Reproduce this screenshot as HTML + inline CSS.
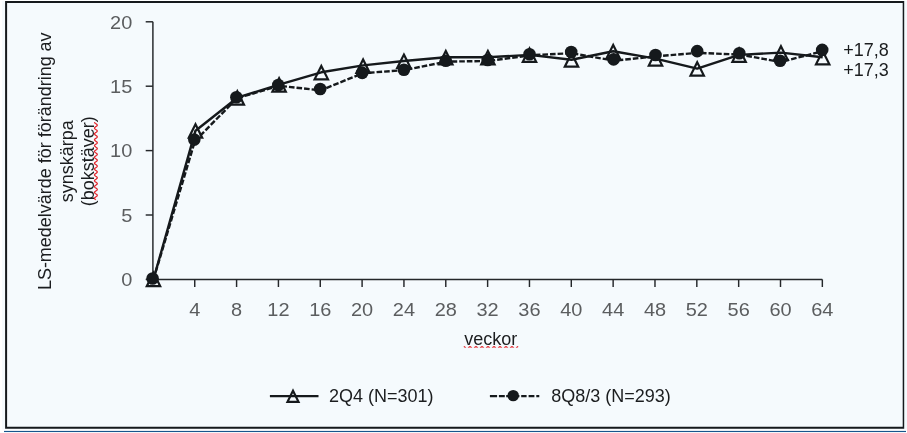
<!DOCTYPE html><html><head><meta charset="utf-8"><title>chart</title>
<style>html,body{margin:0;padding:0;background:#fff;}body{width:907px;height:433px;overflow:hidden;}svg{display:block;will-change:transform;}text{font-family:"Liberation Sans",sans-serif;}</style></head><body>
<svg width="907" height="433" viewBox="0 0 907 433">
<rect x="0" y="0" width="907" height="433" fill="#ffffff"/>
<rect x="2" y="0.9" width="905" height="428.6" fill="#f5fafd"/>
<path d="M5.1 1.05 H904.2 V428.85 H5.1 Z M7.1 3.05 V426.7 H902.7 V3.05 Z" fill="#15191c" fill-rule="evenodd"/>
<rect x="4" y="430.9" width="902" height="1.15" fill="#17558c"/>
<path d="M152.9 21.8 V279.4 H822.3" fill="none" stroke="#24272a" stroke-width="1.45"/>
<path d="M145.7 279.40 H152.9" stroke="#24272a" stroke-width="1.45"/>
<text transform="translate(132.3 286.20) scale(1.05 1)" font-size="19" fill="#5b5d5f" text-anchor="end">0</text>
<path d="M145.7 215.00 H152.9" stroke="#24272a" stroke-width="1.45"/>
<text transform="translate(132.3 221.80) scale(1.05 1)" font-size="19" fill="#5b5d5f" text-anchor="end">5</text>
<path d="M145.7 150.60 H152.9" stroke="#24272a" stroke-width="1.45"/>
<text transform="translate(132.3 157.40) scale(1.05 1)" font-size="19" fill="#5b5d5f" text-anchor="end">10</text>
<path d="M145.7 86.20 H152.9" stroke="#24272a" stroke-width="1.45"/>
<text transform="translate(132.3 93.00) scale(1.05 1)" font-size="19" fill="#5b5d5f" text-anchor="end">15</text>
<path d="M145.7 21.80 H152.9" stroke="#24272a" stroke-width="1.45"/>
<text transform="translate(132.3 28.60) scale(1.05 1)" font-size="19" fill="#5b5d5f" text-anchor="end">20</text>
<path d="M194.74 279.4 V287" stroke="#24272a" stroke-width="1.45"/>
<text transform="translate(194.74 315.9) scale(1.05 1)" font-size="19" fill="#5b5d5f" text-anchor="middle">4</text>
<path d="M236.58 279.4 V287" stroke="#24272a" stroke-width="1.45"/>
<text transform="translate(236.58 315.9) scale(1.05 1)" font-size="19" fill="#5b5d5f" text-anchor="middle">8</text>
<path d="M278.42 279.4 V287" stroke="#24272a" stroke-width="1.45"/>
<text transform="translate(278.42 315.9) scale(1.05 1)" font-size="19" fill="#5b5d5f" text-anchor="middle">12</text>
<path d="M320.26 279.4 V287" stroke="#24272a" stroke-width="1.45"/>
<text transform="translate(320.26 315.9) scale(1.05 1)" font-size="19" fill="#5b5d5f" text-anchor="middle">16</text>
<path d="M362.10 279.4 V287" stroke="#24272a" stroke-width="1.45"/>
<text transform="translate(362.10 315.9) scale(1.05 1)" font-size="19" fill="#5b5d5f" text-anchor="middle">20</text>
<path d="M403.94 279.4 V287" stroke="#24272a" stroke-width="1.45"/>
<text transform="translate(403.94 315.9) scale(1.05 1)" font-size="19" fill="#5b5d5f" text-anchor="middle">24</text>
<path d="M445.78 279.4 V287" stroke="#24272a" stroke-width="1.45"/>
<text transform="translate(445.78 315.9) scale(1.05 1)" font-size="19" fill="#5b5d5f" text-anchor="middle">28</text>
<path d="M487.62 279.4 V287" stroke="#24272a" stroke-width="1.45"/>
<text transform="translate(487.62 315.9) scale(1.05 1)" font-size="19" fill="#5b5d5f" text-anchor="middle">32</text>
<path d="M529.46 279.4 V287" stroke="#24272a" stroke-width="1.45"/>
<text transform="translate(529.46 315.9) scale(1.05 1)" font-size="19" fill="#5b5d5f" text-anchor="middle">36</text>
<path d="M571.30 279.4 V287" stroke="#24272a" stroke-width="1.45"/>
<text transform="translate(571.30 315.9) scale(1.05 1)" font-size="19" fill="#5b5d5f" text-anchor="middle">40</text>
<path d="M613.14 279.4 V287" stroke="#24272a" stroke-width="1.45"/>
<text transform="translate(613.14 315.9) scale(1.05 1)" font-size="19" fill="#5b5d5f" text-anchor="middle">44</text>
<path d="M654.98 279.4 V287" stroke="#24272a" stroke-width="1.45"/>
<text transform="translate(654.98 315.9) scale(1.05 1)" font-size="19" fill="#5b5d5f" text-anchor="middle">48</text>
<path d="M696.82 279.4 V287" stroke="#24272a" stroke-width="1.45"/>
<text transform="translate(696.82 315.9) scale(1.05 1)" font-size="19" fill="#5b5d5f" text-anchor="middle">52</text>
<path d="M738.66 279.4 V287" stroke="#24272a" stroke-width="1.45"/>
<text transform="translate(738.66 315.9) scale(1.05 1)" font-size="19" fill="#5b5d5f" text-anchor="middle">56</text>
<path d="M780.50 279.4 V287" stroke="#24272a" stroke-width="1.45"/>
<text transform="translate(780.50 315.9) scale(1.05 1)" font-size="19" fill="#5b5d5f" text-anchor="middle">60</text>
<path d="M822.34 279.4 V287" stroke="#24272a" stroke-width="1.45"/>
<text transform="translate(822.34 315.9) scale(1.05 1)" font-size="19" fill="#5b5d5f" text-anchor="middle">64</text>
<polyline fill="none" stroke="#15191c" stroke-width="2.4" stroke-linejoin="round" points="153.50,279.20 195.50,130.70 237.30,97.70 279.10,84.55 321.30,72.30 363.10,65.40 403.90,61.00 445.80,57.30 487.90,57.30 529.50,54.85 571.50,59.70 613.20,51.30 655.50,58.60 697.20,68.60 739.10,54.85 780.95,52.60 822.70,57.30"/>
<path d="M153.50 272.80 L160.20 286.20 L146.80 286.20 Z" fill="none" stroke="#15191c" stroke-width="2.2" stroke-linejoin="miter"/>
<path d="M195.50 124.30 L202.20 137.70 L188.80 137.70 Z" fill="none" stroke="#15191c" stroke-width="2.2" stroke-linejoin="miter"/>
<path d="M237.30 91.30 L244.00 104.70 L230.60 104.70 Z" fill="none" stroke="#15191c" stroke-width="2.2" stroke-linejoin="miter"/>
<path d="M279.10 78.15 L285.80 91.55 L272.40 91.55 Z" fill="none" stroke="#15191c" stroke-width="2.2" stroke-linejoin="miter"/>
<path d="M321.30 65.90 L328.00 79.30 L314.60 79.30 Z" fill="none" stroke="#15191c" stroke-width="2.2" stroke-linejoin="miter"/>
<path d="M363.10 59.50 L369.80 72.90 L356.40 72.90 Z" fill="none" stroke="#15191c" stroke-width="2.2" stroke-linejoin="miter"/>
<path d="M403.90 54.60 L410.60 68.00 L397.20 68.00 Z" fill="none" stroke="#15191c" stroke-width="2.2" stroke-linejoin="miter"/>
<path d="M445.80 50.90 L452.50 64.30 L439.10 64.30 Z" fill="none" stroke="#15191c" stroke-width="2.2" stroke-linejoin="miter"/>
<path d="M487.90 50.90 L494.60 64.30 L481.20 64.30 Z" fill="none" stroke="#15191c" stroke-width="2.2" stroke-linejoin="miter"/>
<path d="M529.50 48.45 L536.20 61.85 L522.80 61.85 Z" fill="none" stroke="#15191c" stroke-width="2.2" stroke-linejoin="miter"/>
<path d="M571.50 53.30 L578.20 66.70 L564.80 66.70 Z" fill="none" stroke="#15191c" stroke-width="2.2" stroke-linejoin="miter"/>
<path d="M613.20 44.90 L619.90 58.30 L606.50 58.30 Z" fill="none" stroke="#15191c" stroke-width="2.2" stroke-linejoin="miter"/>
<path d="M655.50 52.20 L662.20 65.60 L648.80 65.60 Z" fill="none" stroke="#15191c" stroke-width="2.2" stroke-linejoin="miter"/>
<path d="M697.20 62.20 L703.90 75.60 L690.50 75.60 Z" fill="none" stroke="#15191c" stroke-width="2.2" stroke-linejoin="miter"/>
<path d="M739.10 48.45 L745.80 61.85 L732.40 61.85 Z" fill="none" stroke="#15191c" stroke-width="2.2" stroke-linejoin="miter"/>
<path d="M780.95 46.20 L787.65 59.60 L774.25 59.60 Z" fill="none" stroke="#15191c" stroke-width="2.2" stroke-linejoin="miter"/>
<path d="M822.70 50.90 L829.40 64.30 L816.00 64.30 Z" fill="none" stroke="#15191c" stroke-width="2.2" stroke-linejoin="miter"/>
<polyline fill="none" stroke="#15191c" stroke-width="2.4" stroke-dasharray="5.6 2" stroke-linejoin="round" points="153.40,279.55 194.90,141.10 237.00,98.30 278.90,85.80 320.80,90.35 362.80,73.20 404.50,70.10 446.40,61.60 488.30,61.00 530.10,55.30 571.80,53.20 614.20,60.70 656.10,56.30 697.80,52.85 739.90,54.60 780.70,62.00 822.80,51.20"/>
<circle cx="152.60" cy="278.55" r="6.3" fill="#15191c"/>
<circle cx="194.30" cy="139.60" r="6.3" fill="#15191c"/>
<circle cx="236.40" cy="97.30" r="6.3" fill="#15191c"/>
<circle cx="278.30" cy="85.00" r="6.3" fill="#15191c"/>
<circle cx="320.20" cy="89.05" r="6.3" fill="#15191c"/>
<circle cx="362.20" cy="72.90" r="6.3" fill="#15191c"/>
<circle cx="403.90" cy="69.70" r="6.3" fill="#15191c"/>
<circle cx="445.80" cy="60.70" r="6.3" fill="#15191c"/>
<circle cx="487.70" cy="60.00" r="6.3" fill="#15191c"/>
<circle cx="529.50" cy="54.30" r="6.3" fill="#15191c"/>
<circle cx="571.20" cy="52.00" r="6.3" fill="#15191c"/>
<circle cx="613.60" cy="59.40" r="6.3" fill="#15191c"/>
<circle cx="655.50" cy="55.00" r="6.3" fill="#15191c"/>
<circle cx="697.20" cy="51.15" r="6.3" fill="#15191c"/>
<circle cx="739.30" cy="53.30" r="6.3" fill="#15191c"/>
<circle cx="780.10" cy="60.70" r="6.3" fill="#15191c"/>
<circle cx="822.20" cy="49.90" r="6.3" fill="#15191c"/>
<text x="843.2" y="56" font-size="18.0" fill="#1b1d1f">+17,8</text>
<text x="843.2" y="76.3" font-size="18.0" fill="#1b1d1f">+17,3</text>
<text transform="translate(50.6 161.25) rotate(-90)" font-size="17.98" fill="#1b1d1f" text-anchor="middle">LS-medelvärde för förändring av</text>
<text transform="translate(72.7 161.25) rotate(-90)" font-size="17.98" fill="#1b1d1f" text-anchor="middle">synskärpa</text>
<text transform="translate(94.0 161.25) rotate(-90)" font-size="17.98" fill="#1b1d1f" text-anchor="middle">(bokstäver)</text>
<polyline points="94.50,122.20 94.61,122.60 94.95,123.00 95.46,123.40 96.05,123.80 96.62,124.20 97.05,124.60 97.28,125.00 97.25,125.40 96.98,125.80 96.51,126.20 95.93,126.60 95.35,127.00 94.86,127.40 94.57,127.80 94.51,128.20 94.71,128.60 95.12,129.00 95.68,129.40 96.28,129.80 96.80,130.20 97.17,130.60 97.30,131.00 97.18,131.40 96.83,131.80 96.30,132.20 95.71,132.60 95.15,133.00 94.72,133.40 94.51,133.80 94.56,134.20 94.84,134.60 95.32,135.00 95.90,135.40 96.49,135.80 96.96,136.20 97.25,136.60 97.28,137.00 97.07,137.40 96.65,137.80 96.08,138.20 95.49,138.60 94.97,139.00 94.62,139.40 94.50,139.80 94.64,140.20 95.00,140.60 95.53,141.00 96.13,141.40 96.68,141.80 97.10,142.20 97.29,142.60 97.23,143.00 96.93,143.40 96.45,143.80 95.86,144.20 95.28,144.60 94.81,145.00 94.54,145.40 94.52,145.80 94.75,146.20 95.19,146.60 95.75,147.00 96.35,147.40 96.86,147.80 97.20,148.20 97.30,148.60 97.15,149.00 96.77,149.40 96.23,149.80 95.63,150.20 95.09,150.60 94.69,151.00 94.51,151.40 94.58,151.80 94.89,152.20 95.39,152.60 95.98,153.00 96.55,153.40 97.01,153.80 97.26,154.20 97.27,154.60 97.03,155.00 96.58,155.40 96.01,155.80 95.42,156.20 94.91,156.60 94.59,157.00 94.50,157.40 94.67,157.80 95.06,158.20 95.61,158.60 96.20,159.00 96.74,159.40 97.13,159.80 97.30,160.20 97.21,160.60 96.88,161.00 96.38,161.40 95.78,161.80 95.21,162.20 94.77,162.60 94.53,163.00 94.54,163.40 94.79,163.80 95.25,164.20 95.83,164.60 96.42,165.00 96.91,165.40 97.22,165.80 97.29,166.20 97.11,166.60 96.71,167.00 96.16,167.40 95.56,167.80 95.03,168.20 94.65,168.60 94.50,169.00 94.61,169.40 94.95,169.80 95.46,170.20 96.05,170.60 96.62,171.00 97.05,171.40 97.28,171.80 97.25,172.20 96.98,172.60 96.51,173.00 95.93,173.40 95.35,173.80 94.86,174.20 94.57,174.60 94.51,175.00 94.71,175.40 95.12,175.80 95.68,176.20 96.28,176.60 96.80,177.00 97.17,177.40 97.30,177.80 97.18,178.20 96.83,178.60 96.30,179.00 95.71,179.40 95.15,179.80 94.72,180.20 94.51,180.60 94.56,181.00 94.84,181.40 95.32,181.80 95.90,182.20 96.49,182.60 96.96,183.00 97.25,183.40 97.28,183.80 97.07,184.20 96.65,184.60 96.08,185.00 95.49,185.40 94.97,185.80 94.62,186.20 94.50,186.60 94.64,187.00 95.00,187.40 95.53,187.80 96.13,188.20 96.68,188.60 97.10,189.00 97.29,189.40 97.23,189.80 96.93,190.20 96.45,190.60 95.86,191.00 95.28,191.40 94.81,191.80 94.54,192.20 94.52,192.60 94.75,193.00 95.19,193.40 95.75,193.80 96.35,194.20 96.86,194.60 97.20,195.00 97.30,195.40 97.15,195.80 96.77,196.20 96.23,196.60 95.63,197.00 95.09,197.40 94.69,197.80 94.51,198.20 94.58,198.60 94.89,199.00 95.39,199.40 95.98,199.80" fill="none" stroke="#e3262d" stroke-width="1.25" stroke-linejoin="round"/>
<text x="490.7" y="344.5" font-size="18.0" fill="#1b1d1f" text-anchor="middle">veckor</text>
<clipPath id="cv"><rect x="460" y="340" width="62" height="7.8"/></clipPath>
<polyline clip-path="url(#cv)" points="463.80,346.68 464.20,346.68 464.60,346.89 465.00,347.27 465.40,347.77 465.80,348.29 466.20,348.74 466.60,349.04 467.00,349.15 467.40,349.04 467.80,348.74 468.20,348.29 468.60,347.77 469.00,347.28 469.40,346.89 469.80,346.68 470.20,346.68 470.60,346.89 471.00,347.27 471.40,347.77 471.80,348.29 472.20,348.74 472.60,349.04 473.00,349.15 473.40,349.04 473.80,348.74 474.20,348.29 474.60,347.77 475.00,347.28 475.40,346.89 475.80,346.68 476.20,346.68 476.60,346.89 477.00,347.27 477.40,347.77 477.80,348.29 478.20,348.74 478.60,349.04 479.00,349.15 479.40,349.04 479.80,348.74 480.20,348.29 480.60,347.77 481.00,347.28 481.40,346.89 481.80,346.68 482.20,346.68 482.60,346.89 483.00,347.27 483.40,347.77 483.80,348.29 484.20,348.74 484.60,349.04 485.00,349.15 485.40,349.04 485.80,348.74 486.20,348.29 486.60,347.77 487.00,347.28 487.40,346.89 487.80,346.68 488.20,346.68 488.60,346.89 489.00,347.27 489.40,347.77 489.80,348.29 490.20,348.74 490.60,349.04 491.00,349.15 491.40,349.04 491.80,348.74 492.20,348.29 492.60,347.77 493.00,347.28 493.40,346.89 493.80,346.68 494.20,346.68 494.60,346.89 495.00,347.27 495.40,347.77 495.80,348.29 496.20,348.74 496.60,349.04 497.00,349.15 497.40,349.04 497.80,348.74 498.20,348.29 498.60,347.77 499.00,347.28 499.40,346.89 499.80,346.68 500.20,346.68 500.60,346.89 501.00,347.27 501.40,347.77 501.80,348.29 502.20,348.74 502.60,349.04 503.00,349.15 503.40,349.04 503.80,348.74 504.20,348.29 504.60,347.77 505.00,347.28 505.40,346.89 505.80,346.68 506.20,346.68 506.60,346.89 507.00,347.27 507.40,347.77 507.80,348.29 508.20,348.74 508.60,349.04 509.00,349.15 509.40,349.04 509.80,348.74 510.20,348.29 510.60,347.77 511.00,347.28 511.40,346.89 511.80,346.68 512.20,346.68 512.60,346.89 513.00,347.27 513.40,347.77 513.80,348.29 514.20,348.74 514.60,349.04 515.00,349.15 515.40,349.04 515.80,348.74 516.20,348.29 516.60,347.77 517.00,347.28 517.40,346.89 517.80,346.68 518.20,346.68" fill="none" stroke="#e3262d" stroke-width="1.25" stroke-linejoin="round"/>
<path d="M269.9 396.15 H318.5" stroke="#15191c" stroke-width="2.25"/>
<path d="M293.00 390.80 L298.50 401.80 L287.50 401.80 Z" fill="none" stroke="#15191c" stroke-width="2.2" stroke-linejoin="miter"/>
<text x="328.9" y="401.7" font-size="18.0" fill="#1b1d1f">2Q4 (N=301)</text>
<path d="M489.9 396.05 H497.1 M498.9 396.05 H504.8 M506.2 396.05 H519.4 M521.2 396.05 H526.6 M528.6 396.05 H534.4 M536.3 396.05 H539.3" stroke="#15191c" stroke-width="2.3"/>
<circle cx="513.2" cy="395.6" r="5.7" fill="#15191c"/>
<text x="551.2" y="401.7" font-size="18.0" fill="#1b1d1f">8Q8/3 (N=293)</text>
</svg></body></html>
